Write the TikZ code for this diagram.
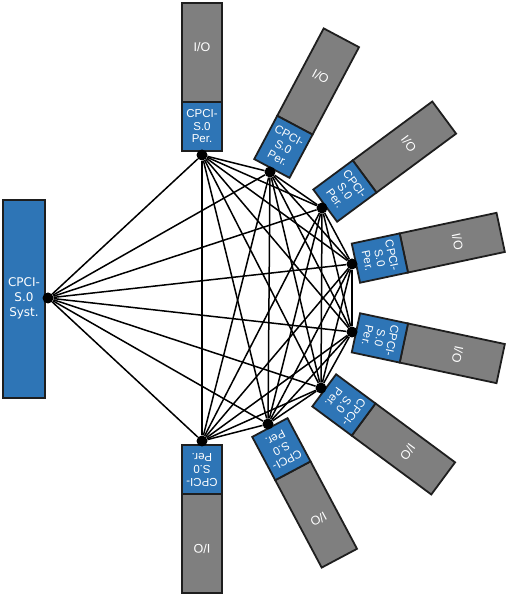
\documentclass[tikz,border=0pt]{standalone}
\usepackage{fontspec}
\setmainfont{Liberation Sans}
\newfontfamily\systfont{DejaVu Sans}

\definecolor{cpciblue}{HTML}{2E75B6}
\definecolor{iogray}{HTML}{7F7F7F}
\definecolor{edgegray}{HTML}{1E1E1E}

\tikzset{
  dot/.style={circle, fill=black, inner sep=0pt, minimum size=11pt},
  board/.style={draw=edgegray, line width=1.8pt},
  cardtext/.style={text=white, align=center, inner sep=0pt, font=\fontsize{11.5}{12.5}\selectfont},
  wire/.style={black, line width=1.5pt}
}

\begin{document}
\begin{tikzpicture}[x=1pt, y=1pt]

\useasboundingbox (0,0) rectangle (521,600);

%Draw system board
\draw[board, fill=cpciblue] (3,202) rectangle (45,400);
\node[cardtext, font=\systfont\fontsize{12}{15}\selectfont] (syst) at (24,302) {CPCI-\\S.0\\Syst.};
\node[dot] (p0) at (48,302) {};

%Draw peripheral boards
\foreach \i/\x/\y/\ang in {1/202/445/90, 2/270/428/62, 3/322/392/36.5, 4/352/336/12,
                           5/352/268/-12, 6/321/212/-36.5, 7/268/176/-62, 8/202/159/-90} {
\begin{scope}[shift={(\x,\y)}, rotate=\ang-90]
\draw[board, fill=iogray] (-20,53) rectangle (20,152);
\draw[board, fill=cpciblue] (-20,4) rectangle (20,53);
\node[cardtext, transform shape] (per\i) at (0,28.5) {CPCI-\\S.0\\Per.};
\node[cardtext, transform shape, font=\fontsize{12.5}{14}\selectfont] (io\i) at (0,108) {I/O};
\end{scope}
\node[dot] (p\i) at (\x,\y) {};
}

%Draw mesh
\foreach \i [evaluate=\i as \k using int(\i+1)] in {0,...,7} {
\foreach \j in {\k,...,8} {
\draw[wire] (p\i) -- (p\j);
}
}

\end{tikzpicture}
\end{document}
